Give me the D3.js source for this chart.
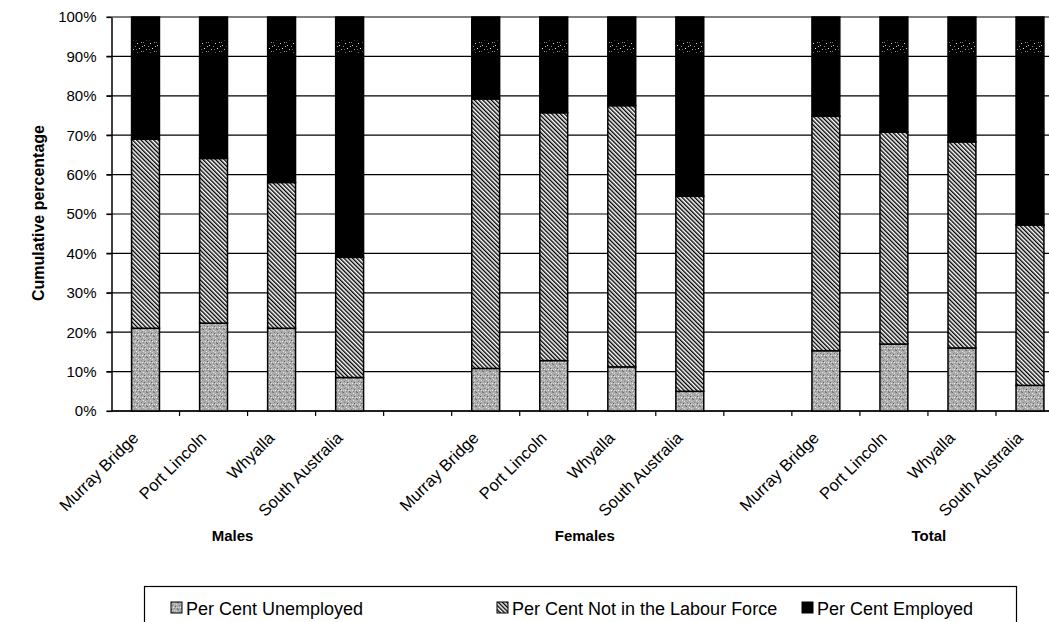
<!DOCTYPE html>
<html>
<head>
<meta charset="utf-8">
<script src="https://cdn.jsdelivr.net/npm/d3@7"></script>
<style>
  body { margin: 0; background: #fff; }
  svg { display: block; font-family: Arial, "Liberation Sans", sans-serif; }
</style>
</head>
<body>
<div id="chart"></div>
<script>
// chart data
const groups = ['Males', 'Females', 'Total'];
const places = ['Murray Bridge', 'Port Lincoln', 'Whyalla', 'South Australia'];
const seriesNames = ['Per Cent Unemployed', 'Per Cent Not in the Labour Force', 'Per Cent Employed'];
// one value per bar: Males x4, Females x4, Total x4
const unemployed       = [21.0, 22.3, 21.0, 8.5, 10.8, 12.8, 11.2, 5.0, 15.3, 17.0, 16.0, 6.5];
const notInLabourForce = [48.0, 41.8, 37.0, 30.5, 68.4, 62.9, 66.3, 49.5, 59.5, 53.8, 52.3, 40.7];
const employed         = [31.0, 35.9, 42.0, 61.0, 20.8, 24.3, 22.5, 45.5, 25.2, 29.2, 31.7, 52.8];
const yTicks = [0, 10, 20, 30, 40, 50, 60, 70, 80, 90, 100];

let width = 1049, height = 622;
let plotLeft = 111.5, plotRight = 1064, plotTop = 17, plotBottom = 411;

let svg = d3.select('#chart').append('svg')
  .attr('width', width)
  .attr('height', height);

let defs = svg.append('defs');

// grey speckle for unemployed
let speck = defs.append('pattern')
  .attr('id', 'speck')
  .attr('patternUnits', 'userSpaceOnUse')
  .attr('width', 7).attr('height', 7);
speck.append('rect').attr('width', 7).attr('height', 7).attr('fill', '#adadad');
[[0,0,'#6e6e6e'],[3,1,'#e8e8e8'],[1,3,'#808080'],[4,4,'#5e5e5e'],[5,2,'#dcdcdc'],[2,5,'#efefef'],
 [6,0,'#8a8a8a'],[0,5,'#d0d0d0'],[6,6,'#777'],[2,2,'#999'],[5,5,'#e0e0e0'],[3,6,'#8c8c8c']]
  .forEach(p => speck.append('rect').attr('x', p[0]).attr('y', p[1]).attr('width', 1).attr('height', 1).attr('fill', p[2]));

// diagonal hatch for not in labour force
let hatch = defs.append('pattern')
  .attr('id', 'hatch')
  .attr('patternUnits', 'userSpaceOnUse')
  .attr('width', 3).attr('height', 3)
  .attr('patternTransform', 'rotate(-45)');
hatch.append('rect').attr('width', 3).attr('height', 3).attr('fill', '#fff');
hatch.append('line').attr('x1', 0.7).attr('y1', 0).attr('x2', 0.7).attr('y2', 3)
  .attr('stroke', '#000').attr('stroke-width', 1.4);

// scan noise seen on the black bars
let noise = defs.append('pattern')
  .attr('id', 'noise')
  .attr('patternUnits', 'userSpaceOnUse')
  .attr('width', 13).attr('height', 9);
noise.append('rect').attr('width', 13).attr('height', 9).attr('fill', '#000');
[[1,0,'#ccc'],[5,1,'#888'],[9,3,'#eee'],[3,4,'#aaa'],[11,6,'#999'],[7,7,'#ddd'],[0,6,'#777'],[12,1,'#bbb'],[6,4,'#666']]
  .forEach(p => noise.append('rect').attr('x', p[0]).attr('y', p[1]).attr('width', 1).attr('height', 1).attr('fill', p[2]));

// 14 slots: 4 bars, gap, 4 bars, gap, 4 bars
let slots = [];
groups.forEach((g, gi) => {
  places.forEach(p => slots.push(g + '|' + p));
  if (gi < groups.length - 1) slots.push('gap' + gi);
});

let rows = [];
groups.forEach((g, gi) => places.forEach((p, pi) => {
  let i = gi * places.length + pi;
  rows.push({ slot: g + '|' + p, place: p, u: unemployed[i], n: notInLabourForce[i], e: employed[i] });
}));

let x = d3.scaleBand().domain(slots).range([plotLeft, plotRight]).padding(0);
let y = d3.scaleLinear().domain([0, 100]).range([plotBottom, plotTop]);
let barW = x.bandwidth() * 0.41;

// gridlines
svg.append('g').selectAll('line')
  .data(yTicks)
  .enter().append('line')
  .attr('x1', plotLeft - 5).attr('x2', plotRight)
  .attr('y1', d => y(d)).attr('y2', d => y(d))
  .attr('stroke', '#000').attr('stroke-width', 1.2);

// y axis
let yAxis = svg.append('g')
  .attr('transform', `translate(${plotLeft},0)`)
  .call(d3.axisLeft(y).tickValues(yTicks).tickFormat(d => d + '%').tickSize(5).tickSizeOuter(0));
yAxis.select('.domain').attr('stroke', '#000').attr('stroke-width', 1.5);
yAxis.selectAll('.tick line').attr('stroke-width', 1.2);
yAxis.selectAll('text').attr('font-size', '15px').attr('fill', '#000').attr('x', -15).attr('font-family', 'Arial, "Liberation Sans", sans-serif');

// x axis line and tick marks at slot boundaries
svg.append('line')
  .attr('x1', plotLeft).attr('x2', plotRight).attr('y1', plotBottom).attr('y2', plotBottom)
  .attr('stroke', '#000').attr('stroke-width', 1.5);
svg.append('g').selectAll('line')
  .data(slots.slice(1))
  .enter().append('line')
  .attr('x1', d => x(d)).attr('x2', d => x(d))
  .attr('y1', plotBottom).attr('y2', plotBottom + 5)
  .attr('stroke', '#000').attr('stroke-width', 1.2);

// stacked bars
let stack = d3.stack().keys(['u', 'n', 'e'])(rows);
let fills = ['url(#speck)', 'url(#hatch)', '#000'];

stack.forEach((layer, li) => {
  svg.append('g').selectAll('rect')
    .data(layer)
    .enter().append('rect')
    .attr('x', d => x(d.data.slot) + (x.bandwidth() - barW) / 2)
    .attr('y', d => y(d[1]))
    .attr('width', barW)
    .attr('height', d => y(d[0]) - y(d[1]))
    .attr('fill', fills[li])
    .attr('stroke', '#000')
    .attr('stroke-width', 1.5);
});

// the light noisy band near the top of each black bar
svg.append('g').selectAll('rect')
  .data(rows)
  .enter().append('rect')
  .attr('x', d => x(d.slot) + (x.bandwidth() - barW) / 2 + 1)
  .attr('y', y(94))
  .attr('width', barW - 2)
  .attr('height', y(91) - y(94))
  .attr('fill', 'url(#noise)');

// category labels
svg.append('g').selectAll('text')
  .data(rows)
  .enter().append('text')
  .attr('transform', d => `translate(${x(d.slot) + x.bandwidth() / 2 - 6},${plotBottom + 28}) rotate(-45)`)
  .attr('text-anchor', 'end')
  .attr('font-size', '16.5px')
  .text(d => d.place);

// group labels
let groupNudge = [-15, -3, 1];
svg.append('g').selectAll('text')
  .data(groups)
  .enter().append('text')
  .attr('x', (g, i) => (x(g + '|' + places[1]) + x(g + '|' + places[2]) + x.bandwidth()) / 2 + groupNudge[i])
  .attr('y', 541)
  .attr('text-anchor', 'middle')
  .attr('font-size', '15px')
  .attr('font-weight', 'bold')
  .text(g => g);

// y axis title
svg.append('text')
  .attr('transform', `translate(44,213) rotate(-90)`)
  .attr('text-anchor', 'middle')
  .attr('font-size', '16px')
  .attr('font-weight', 'bold')
  .text('Cumulative percentage');

// legend
svg.append('rect')
  .attr('x', 144.5).attr('y', 586.5)
  .attr('width', 872).attr('height', 44)
  .attr('fill', 'none').attr('stroke', '#000').attr('stroke-width', 1.2);

let legendX = [171, 497, 802];
let legend = svg.append('g').selectAll('g')
  .data(seriesNames)
  .enter().append('g')
  .attr('transform', (d, i) => `translate(${legendX[i]},602)`);
legend.append('rect')
  .attr('width', 11).attr('height', 11)
  .attr('fill', (d, i) => fills[i])
  .attr('stroke', '#000').attr('stroke-width', 1);
legend.append('text')
  .attr('x', 15).attr('y', 13)
  .attr('font-size', '18px')
  .text(d => d);
</script>
</body>
</html>
